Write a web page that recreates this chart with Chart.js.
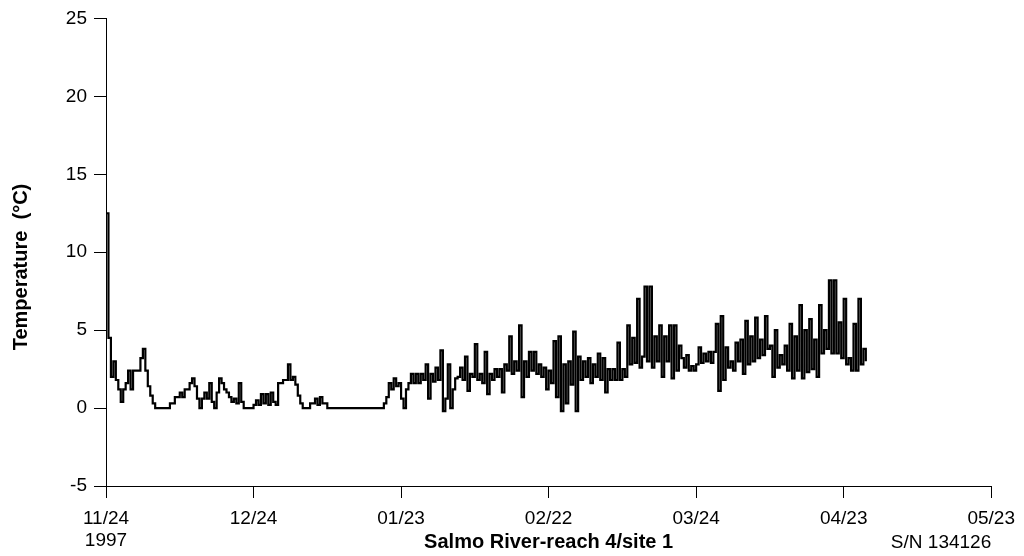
<!DOCTYPE html>
<html>
<head>
<meta charset="utf-8">
<title>Salmo River-reach 4/site 1</title>
<script src="https://cdn.jsdelivr.net/npm/chart.js@4.4.1/dist/chart.umd.min.js"></script>
<style>
  html, body { margin: 0; padding: 0; background: #fff; }
  #chart { display: block; }
</style>
</head>
<body>
<canvas id="chart" width="1024" height="556"></canvas>
<script>
// --- Data (logger readings, one every half day from 11/24/1997) ---
const START_DAY = 0;
const STEP_DAYS = 0.5;
const temps = [
    12.5, 4.5, 2.0, 3.0, 1.8, 1.2, 0.4, 1.2, 1.6, 2.4,   // 11/24
    1.2, 2.4, 2.4, 2.4, 3.2, 3.8, 2.4, 1.4, 0.8, 0.3,
    0, 0, 0, 0, 0, 0, 0.3, 0.3, 0.7, 0.7,
    1.0, 0.7, 1.2, 1.2, 1.6, 1.9, 1.4, 0.6, 0.0, 0.6,
    1.0, 0.6, 1.6, 0.4, 0.0, 1.0, 1.9, 1.6, 1.2, 1.0,
    0.7, 0.4, 0.6, 0.3, 1.6, 0.4, 0, 0, 0, 0,
    0.2, 0.5, 0.2, 0.9, 0.3, 0.9, 0.2, 1.0, 0.4, 0.2,   // 12/24
    1.6, 1.6, 1.8, 1.8, 2.8, 1.8, 2.0, 1.5, 0.8, 0.3,
    0, 0, 0, 0.3, 0.3, 0.6, 0.2, 0.7, 0.3, 0.3,
    0, 0, 0, 0, 0, 0, 0, 0, 0, 0,
    0, 0, 0, 0, 0, 0, 0, 0, 0, 0,
    0, 0, 0, 0.3, 0.7, 1.6, 1.2, 1.9, 1.4, 1.6,
    0.6, 0.0, 1.2, 1.6, 2.2, 1.6, 2.2, 1.6, 2.2, 1.8,   // 01/23
    2.8, 0.6, 2.2, 1.7, 2.6, 1.8, 3.7, -0.2, 0.6, 2.8,
    0.0, 1.2, 1.9, 2.0, 2.6, 1.8, 3.3, 1.1, 2.2, 2.0,
    4.1, 1.8, 2.2, 1.6, 3.6, 0.9, 2.2, 1.8, 2.5, 2.0,
    2.5, 1.0, 2.8, 2.4, 4.6, 2.2, 3.0, 2.4, 5.3, 0.7,
    3.0, 2.0, 3.6, 2.4, 3.6, 2.2, 2.8, 2.0, 2.6, 1.2,
    2.4, 1.6, 4.3, 0.7, 4.6, -0.2, 2.8, 0.3, 3.0, 1.5,  // 02/22
    4.9, -0.2, 3.3, 1.8, 3.0, 2.0, 3.2, 1.6, 2.8, 2.0,
    3.5, 1.8, 3.2, 1.0, 2.5, 1.8, 2.5, 1.8, 4.2, 1.8,
    2.5, 2.0, 5.3, 2.8, 4.5, 2.9, 7.0, 2.6, 3.3, 7.8,
    3.0, 7.8, 2.6, 4.6, 3.0, 5.3, 2.0, 4.6, 3.0, 5.3,
    1.9, 5.3, 2.4, 4.0, 3.2, 2.6, 3.4, 2.4, 2.7, 2.4,
    2.8, 3.9, 2.9, 3.5, 3.0, 3.6, 2.9, 3.6, 5.4, 1.1,   // 03/24
    5.9, 1.8, 3.9, 2.6, 3.0, 2.4, 4.2, 3.0, 4.4, 2.2,
    5.6, 2.8, 4.6, 3.0, 5.8, 3.2, 4.4, 3.4, 5.9, 3.8,
    4.0, 2.0, 5.0, 2.6, 3.4, 2.8, 4.0, 2.4, 5.4, 1.9,
    4.6, 2.4, 6.6, 1.9, 5.0, 2.3, 5.7, 2.5, 4.4, 2.0,
    6.6, 3.5, 5.0, 3.8, 8.2, 3.5, 8.2, 3.5, 5.5, 3.2,
    7.0, 2.8, 3.2, 2.4, 5.4, 2.4, 7.0, 2.8, 3.8, 3.0    // 04/23
];

// --- Axes ---
const X_MIN = 0, X_MAX = 180, X_STEP = 30;
const Y_MIN = -5, Y_MAX = 25, Y_STEP = 5;
const xTickLabels = [['11/24', '1997'], '12/24', '01/23', '02/22', '03/24', '04/23', '05/23'];
const xAxisTitle = 'Salmo River-reach 4/site 1';
const yAxisTitle = 'Temperature  (\u00B0C)';
const serialLabel = 'S/N 134126';

const FONT = '"Liberation Sans", Arial, sans-serif';

const points = temps.map((t, i) => ({ x: START_DAY + i * STEP_DAYS, y: t }));

// titles drawn by hand so they sit where the original puts them
const extraText = {
    id: 'extraText',
    afterDraw(chart) {
        const ctx = chart.ctx;
        const area = chart.chartArea;
        ctx.save();
        ctx.fillStyle = '#000';
        ctx.textBaseline = 'alphabetic';

        ctx.font = 'bold 20px ' + FONT;
        ctx.textAlign = 'center';
        ctx.fillText(xAxisTitle, (area.left + area.right) / 2, 548);

        ctx.font = '19px ' + FONT;
        ctx.textAlign = 'right';
        ctx.fillText(serialLabel, area.right, 548);

        ctx.translate(27, 267);
        ctx.rotate(-Math.PI / 2);
        ctx.font = 'bold 20px ' + FONT;
        ctx.textAlign = 'center';
        ctx.fillText(yAxisTitle, 0, 0);
        ctx.restore();
    }
};

const axisGrid = {
    display: true,
    drawOnChartArea: false,
    drawTicks: true,
    tickLength: 12,
    color: '#000',
    lineWidth: 1
};

new Chart(document.getElementById('chart'), {
    type: 'line',
    data: {
        datasets: [{
            data: points,
            borderColor: '#000',
            borderWidth: 2.2,
            pointRadius: 0,
            stepped: true,
            fill: false
        }]
    },
    options: {
        responsive: false,
        animation: false,
        layout: { padding: { left: 0, right: 31, top: 16, bottom: 0 } },
        plugins: {
            legend: { display: false },
            tooltip: { enabled: false }
        },
        scales: {
            x: {
                type: 'linear',
                min: X_MIN,
                max: X_MAX,
                grid: axisGrid,
                border: { display: true, color: '#000', width: 1 },
                ticks: {
                    stepSize: X_STEP,
                    maxRotation: 0,
                    autoSkip: false,
                    padding: 9,
                    color: '#000',
                    font: { family: FONT, size: 19, lineHeight: 1.2 },
                    callback: (value, index) => xTickLabels[index]
                },
                afterFit: (scale) => { scale.height = 70; }
            },
            y: {
                min: Y_MIN,
                max: Y_MAX,
                grid: axisGrid,
                border: { display: true, color: '#000', width: 1 },
                ticks: {
                    stepSize: Y_STEP,
                    padding: 7,
                    color: '#000',
                    font: { family: FONT, size: 19 }
                },
                afterFit: (scale) => { scale.width = 106; }
            }
        }
    },
    plugins: [extraText]
});
</script>
</body>
</html>
